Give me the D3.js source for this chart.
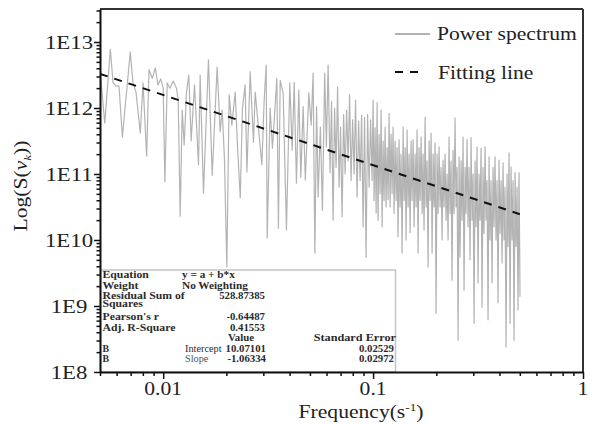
<!DOCTYPE html>
<html>
<head>
<meta charset="utf-8">
<script src="https://cdn.jsdelivr.net/npm/d3@7"></script>
<style>
  body { margin: 0; background: #fff; }
  svg text { font-family: "Liberation Serif", "Times New Roman", serif; }
</style>
</head>
<body>
<script>
// power spectrum: frequency (1/s) and log10 of S
var freq = [
  0.00501, 0.00527, 0.00560, 0.00577, 0.00596, 0.00616, 0.00639, 0.00697, 0.00718, 0.00742,
  0.00778, 0.00802, 0.00834, 0.00856, 0.00887, 0.00917, 0.00944, 0.00973, 0.0100, 0.01019,
  0.01045, 0.01076, 0.01116, 0.01157, 0.01179, 0.01205, 0.01232, 0.01259, 0.01291, 0.01325,
  0.01359, 0.01410, 0.01473, 0.01500, 0.01556, 0.01643, 0.01712, 0.01807, 0.01868, 0.01910,
  0.01958, 0.02010, 0.02062, 0.02123, 0.02203, 0.02258, 0.02329, 0.02386, 0.02457, 0.02505,
  0.02597, 0.02692, 0.02744, 0.02843, 0.02952, 0.03025, 0.03095, 0.03129, 0.03232, 0.03315,
  0.03479, 0.03540, 0.03610, 0.03728, 0.03866, 0.04010, 0.04117, 0.04208, 0.04313, 0.04427,
  0.04525, 0.04642, 0.04755, 0.04941, 0.0507, 0.0518, 0.0528, 0.0538, 0.05471, 0.0561,
  0.05735, 0.0588, 0.0599, 0.06105,
  0.06238, 0.06341, 0.06447, 0.06553, 0.06662, 0.06775, 0.06887, 0.06998, 0.07117, 0.07236,
  0.07358, 0.07479, 0.07605, 0.07728, 0.07855, 0.07987, 0.08117, 0.08251, 0.08389, 0.08532,
  0.08673, 0.08818, 0.08962, 0.09107, 0.09259, 0.09416, 0.0957, 0.09728, 0.0989,
  0.1000, 0.1011, 0.1022, 0.1034, 0.1045, 0.1056, 0.1068, 0.1080, 0.1092, 0.1104,
  0.1116, 0.1128, 0.1141, 0.1153, 0.1166, 0.1179, 0.1192, 0.1205, 0.1218, 0.1232,
  0.1245, 0.1259, 0.1273, 0.1287, 0.1301, 0.1315, 0.1330, 0.1344, 0.1359, 0.1374,
  0.1390, 0.1405, 0.1421, 0.1436, 0.1452, 0.1468, 0.1484, 0.1501, 0.1517, 0.1534,
  0.1551, 0.1568, 0.1585, 0.1603, 0.1620, 0.1638, 0.1656, 0.1675, 0.1693, 0.1712,
  0.1730, 0.1749, 0.1769, 0.1788, 0.1808, 0.1828, 0.1848, 0.1868, 0.1889, 0.1910,
  0.1931, 0.1952, 0.1974, 0.1995, 0.2017, 0.2040, 0.2062, 0.2085, 0.2108, 0.2131,
  0.2154, 0.2178, 0.2202, 0.2226, 0.2251, 0.2276, 0.2301, 0.2326, 0.2352, 0.2378,
  0.2404, 0.2430, 0.2457, 0.2484, 0.2512, 0.2540, 0.2568, 0.2596, 0.2625, 0.2654,
  0.2683, 0.2712, 0.2742, 0.2772, 0.2803, 0.2834, 0.2865, 0.2897, 0.2929, 0.2961,
  0.2994, 0.3027, 0.3060, 0.3094, 0.3128, 0.3162, 0.3197, 0.3232, 0.3268, 0.3304,
  0.3340, 0.3377, 0.3415, 0.3452, 0.3490, 0.3529, 0.3568, 0.3607, 0.3647, 0.3687,
  0.3728, 0.3769, 0.3810, 0.3852, 0.3895, 0.3938, 0.3981, 0.4025, 0.4070, 0.4115,
  0.4160, 0.4206, 0.4250, 0.4299, 0.4347, 0.4394, 0.4443, 0.4492, 0.4541, 0.4592,
  0.4642, 0.4693, 0.4745, 0.4797, 0.4850, 0.4903, 0.4957, 0.5012
];
var logPower = [
  12.55, 11.77, 12.89, 12.38, 12.33, 12.33, 11.56, 12.85, 12.38, 12.24,
  11.62, 12.38, 11.27, 12.58, 12.45, 12.61, 12.35, 12.44, 12.30, 10.88,
  12.38, 12.30, 12.41, 12.30, 12.12, 10.36, 11.97, 11.44, 12.24, 12.50,
  11.50, 12.35, 11.14, 12.50, 10.71, 12.73, 10.98, 12.62, 11.64, 11.97,
  11.24, 9.59, 12.20, 11.74, 12.24, 11.44, 10.64, 12.00, 12.35, 11.03,
  12.55, 11.48, 12.24, 11.70, 11.14, 12.09, 12.65, 10.03, 12.00, 11.39,
  12.45, 10.18, 12.42, 12.23, 10.15, 12.38, 11.36, 12.39, 10.86, 12.27,
  10.95, 12.02, 10.91, 12.23, 11.74, 12.53, 9.80, 12.02, 10.65, 11.71,
  10.45, 12.53, 11.41, 12.65,
  11.02, 12.10, 10.30, 12.00, 11.10, 12.32, 10.80, 11.71, 10.35, 11.90,
  11.00, 11.97, 11.20, 12.20, 10.90, 11.82, 11.00, 12.12, 10.65, 11.80,
  10.90, 11.89, 10.20, 11.86, 9.74, 11.90, 10.80, 11.82, 10.90,
  12.12, 10.60, 11.70, 10.41, 12.08, 10.30, 11.60, 10.70, 11.97, 10.20,
  11.50, 10.60, 11.71, 10.50, 11.40, 10.61, 11.92, 10.50, 11.60, 10.70,
  11.71, 10.40, 11.50, 10.60, 11.40, 10.05, 11.52, 10.50, 11.30, 9.80,
  11.71, 10.60, 11.40, 10.00, 11.67, 10.50, 11.30, 10.11, 11.50, 10.60,
  11.52, 10.20, 11.30, 10.50, 11.67, 9.80, 11.40, 10.60, 11.56, 10.40,
  11.30, 10.15, 11.86, 10.50, 11.20, 9.59, 11.50, 10.60, 11.62, 9.80,
  11.30, 10.50, 11.47, 8.89, 11.30, 10.40, 11.41, 10.50, 11.10, 10.00,
  11.21, 10.50, 11.30, 10.30, 11.00, 10.00, 11.56, 10.40, 11.20, 9.39,
  11.36, 10.40, 11.85, 10.50, 11.10, 8.48, 11.26, 9.74, 11.20, 10.30,
  11.56, 9.24, 11.10, 10.40, 11.52, 10.20, 11.10, 9.70, 11.55, 10.30,
  11.00, 8.74, 11.20, 10.20, 11.41, 9.35, 11.00, 10.30, 11.39, 8.98,
  11.10, 10.10, 11.41, 10.30, 10.90, 8.79, 11.26, 10.00, 10.90, 9.35,
  11.10, 10.20, 11.26, 10.00, 10.90, 9.05, 11.21, 10.10, 10.90, 9.65,
  11.17, 10.00, 10.80, 8.38, 11.00, 9.90, 11.32, 8.74, 11.11, 10.00,
  10.90, 8.48, 11.02, 9.90, 10.80, 8.94, 11.02, 9.14
];

// linear fit of log S against log f, as printed in the box
var fitIntercept = 10.07101;
var fitSlope = -1.06334;
var fitRange = [0.005, 0.5];

var xTickValues = [0.01, 0.1, 1];
var xTickLabels = ["0.01", "0.1", "1"];
var yTickValues = [1e8, 1e9, 1e10, 1e11, 1e12, 1e13];
var yTickLabels = ["1E8", "1E9", "1E10", "1E11", "1E12", "1E13"];
var legendLabels = ["Power spectrum", "Fitting line"];

var statLabels = ["Equation", "Weight", "Residual Sum of", "Squares", "Pearson's r", "Adj. R-Square"];
var statValues = ["y = a + b*x", "No Weighting", "528.87385", "", "-0.64487", "0.41553"];
var paramHeaders = ["Value", "Standard Error"];
var paramRows = [
  ["B", "Intercept", "10.07101", "0.02529"],
  ["B", "Slope", "-1.06334", "0.02972"]
];

function init() {
  var width = 600;
  var height = 424;
  var left = 100, right = 583, top = 9, bottom = 372;

  var svg = d3.select("body").append("svg")
      .attr("width", width)
      .attr("height", height);

  var x = d3.scaleLog().domain([0.005, 1]).range([left, right]);
  var y = d3.scaleLog().domain([1e8, Math.pow(10, 13.5)]).range([bottom, top]);

  // text helper, the original lettering is a little wider than Liberation Serif
  function label(g, txt, px, py, size, anchor, sx, rot) {
    return g.append("text")
        .attr("transform", "translate(" + px + "," + py + ")" + (rot ? " rotate(" + rot + ")" : "") + " scale(" + (sx || 1) + ",1)")
        .attr("text-anchor", anchor || "start")
        .attr("font-size", size)
        .text(txt);
  }

  svg.append("clipPath").attr("id", "plotclip")
    .append("rect").attr("x", left).attr("y", top)
    .attr("width", right - left).attr("height", bottom - top);

  // power spectrum
  var points = freq.map(function (f, i) { return { f: f, p: Math.pow(10, logPower[i]) }; });
  var line = d3.line()
      .x(function (d) { return x(d.f); })
      .y(function (d) { return y(d.p); });

  var plot = svg.append("g").attr("clip-path", "url(#plotclip)");
  plot.append("path")
      .datum(points)
      .attr("fill", "none")
      .attr("stroke", "#9a9a9a")
      .attr("stroke-opacity", 0.75)
      .attr("stroke-width", 1.2)
      .attr("stroke-linejoin", "round")
      .attr("d", line);

  // fitting line
  var fitPts = fitRange.map(function (f) {
    return { f: f, p: Math.pow(10, fitIntercept + fitSlope * Math.log10(f)) };
  });
  plot.append("path")
      .datum(fitPts)
      .attr("fill", "none")
      .attr("stroke", "#111")
      .attr("stroke-width", 2)
      .attr("stroke-dasharray", "8,7")
      .attr("d", line);

  // stats box
  var box = svg.append("g");
  box.append("rect")
      .attr("x", left + 0.5).attr("y", 270)
      .attr("width", 395 - left).attr("height", bottom - 270)
      .attr("fill", "#fff")
      .attr("stroke", "#c4c4c4")
      .attr("stroke-width", 1.5);

  var fs = 9.8;
  var rowY = [278, 288.5, 298.5, 306.5, 320, 330.5];
  var tg = box.append("g").attr("fill", "#2b2b2b").attr("font-weight", "bold");
  statLabels.forEach(function (s, i) {
    label(tg, s, 102.5, rowY[i], fs, "start", 1.2);
  });
  statValues.forEach(function (s, i) {
    if (!s) return;
    if (i < 2) label(tg, s, 182, rowY[i], fs, "start", 1.15);
    else label(tg, s, 265, rowY[i], fs, "end", 1.1);
  });
  label(tg, paramHeaders[0], 228, 341, fs, "start", 1.1);
  label(tg, paramHeaders[1], 396, 341, fs, "end", 1.25);
  var pY = [351.5, 361.5];
  paramRows.forEach(function (r, i) {
    label(tg, r[0], 102.5, pY[i], fs);
    label(tg, r[1], 185, pY[i], fs, "start", 1.05).attr("font-weight", "normal").attr("fill", i ? "#555" : "#2b2b2b");
    label(tg, r[2], 266, pY[i], fs, "end", 1.1);
    label(tg, r[3], 394, pY[i], fs, "end", 1.1);
  });

  // frame
  svg.append("line").attr("x1", left).attr("x2", right).attr("y1", top).attr("y2", top)
      .attr("stroke", "#333").attr("stroke-width", 2);
  svg.append("line").attr("x1", right).attr("x2", right).attr("y1", top).attr("y2", bottom)
      .attr("stroke", "#333").attr("stroke-width", 2);

  // axes
  var xMajor = xTickValues.map(Number);
  var xAxis = d3.axisBottom(x)
      .tickValues(x.ticks())
      .tickFormat("")
      .tickSizeOuter(0);
  var gx = svg.append("g").attr("transform", "translate(0," + bottom + ")").call(xAxis);
  gx.select(".domain").attr("stroke", "#111").attr("stroke-width", 2);
  gx.selectAll(".tick line")
      .attr("stroke", "#111")
      .attr("stroke-width", 1.5)
      .attr("y2", function (d) { return xMajor.indexOf(+d.toPrecision(6)) >= 0 ? 7 : 4; });

  var yMajor = yTickValues.map(Number);
  var yAxis = d3.axisLeft(y)
      .tickValues(y.ticks())
      .tickFormat("")
      .tickSizeOuter(0);
  var gy = svg.append("g").attr("transform", "translate(" + left + ",0)").call(yAxis);
  gy.select(".domain").attr("stroke", "#111").attr("stroke-width", 2);
  gy.selectAll(".tick line")
      .attr("stroke", "#111")
      .attr("stroke-width", 1.5)
      .attr("x2", function (d) { return yMajor.indexOf(+d.toPrecision(6)) >= 0 ? -6 : -3.5; });

  // tick labels
  var lab = svg.append("g").attr("fill", "#222");
  xTickValues.forEach(function (v, i) {
    label(lab, xTickLabels[i], x(v), 395, 18, "middle", 1.2);
  });
  yTickValues.forEach(function (v, i) {
    label(lab, yTickLabels[i], 69, y(v) + 6.5, 19, "middle", 1.2);
  });

  // axis titles
  var xt = label(lab, "", 361, 418, 18, "middle", 1.2);
  xt.append("tspan").text("Frequency(s");
  xt.append("tspan").attr("font-size", 11).attr("dy", -7).text("-1");
  xt.append("tspan").attr("dy", 7).text(")");

  var yt = label(lab, "", 27, 186, 18, "middle", 1.2, -90);
  yt.append("tspan").text("Log(S(");
  yt.append("tspan").attr("font-style", "italic").text("v");
  yt.append("tspan").attr("font-style", "italic").attr("font-size", 11).attr("dy", 4).text("k");
  yt.append("tspan").attr("dy", -4).text("))");

  // legend
  var leg = svg.append("g");
  leg.append("line").attr("x1", 395).attr("x2", 430).attr("y1", 34).attr("y2", 34)
      .attr("stroke", "#999").attr("stroke-width", 1.3);
  leg.append("line").attr("x1", 395).attr("x2", 418).attr("y1", 72).attr("y2", 72)
      .attr("stroke", "#111").attr("stroke-width", 2).attr("stroke-dasharray", "8,7");
  label(leg, legendLabels[0], 437, 40, 18, "start", 1.2).attr("fill", "#222");
  label(leg, legendLabels[1], 438, 79, 18, "start", 1.2).attr("fill", "#222");
}

window.onload = init;
</script>
</body>
</html>
